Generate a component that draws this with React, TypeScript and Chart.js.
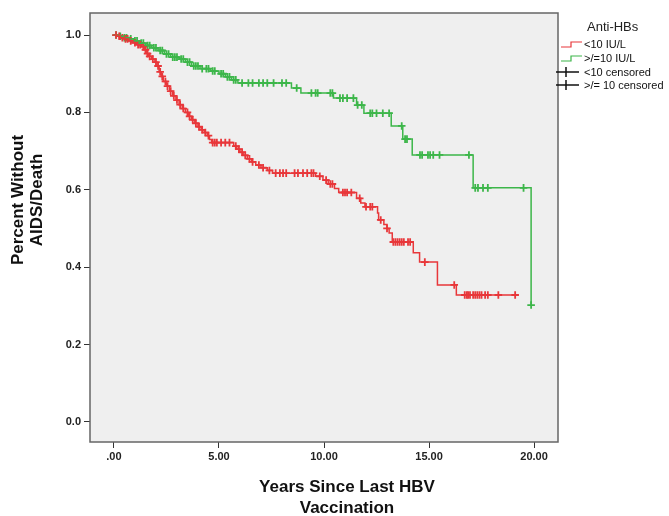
import React, { useEffect, useRef } from "react";
import { Chart, registerables } from "chart.js";

Chart.register(...registerables);

// ---------- data ----------
const xTickValues = [0, 5, 10, 15, 20];
const yTickValues = [0, 0.2, 0.4, 0.6, 0.8, 1.0];

const groupLabels = ["<10 IU/L", ">/=10 IU/L", "<10 censored", ">/= 10 censored"];
const legendTitle = "Anti-HBs";
const xTitleLines = ["Years Since Last HBV", "Vaccination"];
const yTitleLines = ["Percent Without", "AIDS/Death"];

// <10 IU/L group: event times and survival after each event
const lowEventTimes = [
  0.15, 0.3, 0.5, 0.7, 0.9, 1.1, 1.3, 1.45, 1.55, 1.65, 1.8, 1.95, 2.05, 2.15, 2.25, 2.35,
  2.5, 2.65, 2.8, 2.95, 3.1, 3.25, 3.4, 3.55, 3.7, 3.85, 4.0, 4.15, 4.3, 4.45, 4.55, 4.65,
  5.7, 5.85, 6.0, 6.15, 6.35, 6.55, 6.75, 7.0, 7.3, 7.55, 9.6, 9.95, 10.2, 10.5, 10.7,
  11.55, 11.75, 11.95, 12.55, 12.6, 12.85, 13.0, 13.1, 13.25, 14.25, 14.55, 15.4, 16.3,
];
const lowEventSurv = [
  0.997, 0.993, 0.99, 0.985, 0.98, 0.975, 0.97, 0.962, 0.952, 0.945, 0.938, 0.93, 0.92, 0.905, 0.893, 0.88,
  0.868, 0.855, 0.843, 0.832, 0.82, 0.81, 0.8, 0.79, 0.781, 0.772, 0.763, 0.755, 0.748, 0.74, 0.73, 0.722,
  0.713, 0.705, 0.697, 0.689, 0.68, 0.672, 0.664, 0.657, 0.65, 0.643, 0.635, 0.625, 0.615, 0.603, 0.593,
  0.578, 0.566, 0.556, 0.54, 0.522, 0.51, 0.5, 0.488, 0.465, 0.437, 0.413, 0.354, 0.328,
];
const lowCensorTimes = [
  0.1, 0.25, 0.4, 0.55, 0.65, 0.8, 1.0, 1.15, 1.25, 1.4, 1.5, 1.6, 1.7, 1.85, 2.0, 2.1, 2.2, 2.3,
  2.45, 2.55, 2.7, 2.85, 3.0, 3.15, 3.3, 3.5, 3.6, 3.75, 3.9, 4.05, 4.2, 4.35, 4.5, 4.7, 4.8, 4.9,
  5.1, 5.3, 5.5, 5.8, 5.95, 6.1, 6.25, 6.45, 6.6, 6.9, 7.1, 7.4, 7.7, 7.9, 8.05, 8.2, 8.6, 8.76,
  9.0, 9.2, 9.4, 9.5, 9.8, 10.1, 10.3, 10.4, 10.9, 11.0, 11.1, 11.3, 11.7, 12.0, 12.2, 12.3, 12.7,
  13.0, 13.3, 13.4, 13.5, 13.6, 13.7, 13.8, 14.0, 14.1, 14.8, 16.2, 16.7, 16.8, 16.86, 16.95, 17.1,
  17.2, 17.3, 17.4, 17.5, 17.67, 17.8, 18.3, 19.1,
];

// >/=10 IU/L group
const highEventTimes = [
  0.2, 0.45, 0.7, 0.95, 1.2, 1.5, 1.8, 2.1, 2.4, 2.7, 3.1, 3.4, 3.7, 4.1, 4.6, 5.0, 5.3, 5.6, 5.9,
  8.45, 8.9, 10.45, 11.55, 11.9, 13.2, 13.75, 14.2, 17.1, 19.86,
];
const highEventSurv = [
  0.997, 0.993, 0.99, 0.985, 0.979, 0.973, 0.967, 0.96, 0.951, 0.943, 0.938, 0.93, 0.92, 0.913, 0.907,
  0.9, 0.892, 0.884, 0.876, 0.863, 0.85, 0.837, 0.819, 0.798, 0.765, 0.731, 0.69, 0.605, 0.302,
];
const highCensorTimes = [
  0.1, 0.3, 0.5, 0.6, 0.8, 1.0, 1.1, 1.3, 1.4, 1.6, 1.7, 1.9, 2.0, 2.2, 2.3, 2.5, 2.6, 2.8, 2.9, 3.0,
  3.2, 3.3, 3.5, 3.6, 3.8, 3.9, 4.0, 4.2, 4.4, 4.5, 4.7, 4.8, 5.1, 5.2, 5.4, 5.5, 5.7, 5.8, 6.1, 6.4,
  6.6, 6.9, 7.1, 7.3, 7.6, 8.0, 8.2, 8.7, 9.4, 9.6, 9.7, 10.3, 10.4, 10.76, 10.9, 11.1, 11.4, 11.6,
  11.8, 12.2, 12.3, 12.5, 12.8, 13.1, 13.7, 13.86, 13.95, 14.57, 14.67, 14.95, 15.05, 15.2, 15.5,
  16.9, 17.2, 17.33, 17.57, 17.8, 19.5, 19.86,
];

const lowColor = "#e8373a";
const highColor = "#3db64a";

// ---------- helpers ----------
function survAt(times: number[], surv: number[], t: number): number {
  let s = 1;
  for (let i = 0; i < times.length; i++) {
    if (times[i] <= t) s = surv[i];
  }
  return s;
}

function stepPoints(times: number[], surv: number[], censors: number[]) {
  const pts: { x: number; y: number }[] = [{ x: 0, y: 1 }];
  let prev = 1;
  for (let i = 0; i < times.length; i++) {
    pts.push({ x: times[i], y: prev });
    pts.push({ x: times[i], y: surv[i] });
    prev = surv[i];
  }
  const lastC = Math.max(...censors);
  if (lastC > times[times.length - 1]) pts.push({ x: lastC, y: prev });
  return pts;
}

function censorPoints(times: number[], surv: number[], censors: number[]) {
  return censors.map((t) => ({ x: t, y: survAt(times, surv, t) }));
}

const FONT = "'Liberation Sans', Arial, Helvetica, sans-serif";

const framePlugin = {
  id: "frame",
  beforeDatasetsDraw(chart: any) {
    const { ctx, chartArea: a } = chart;
    ctx.save();
    ctx.fillStyle = "#efefef";
    ctx.fillRect(a.left, a.top, a.right - a.left, a.bottom - a.top);
    ctx.restore();
  },
  afterDraw(chart: any) {
    const { ctx, chartArea: a } = chart;
    ctx.save();
    ctx.strokeStyle = "#666";
    ctx.lineWidth = 1.5;
    ctx.strokeRect(a.left, a.top, a.right - a.left, a.bottom - a.top);

    // axis titles
    ctx.fillStyle = "#111";
    ctx.font = `bold 17px ${FONT}`;
    ctx.textAlign = "center";
    ctx.textBaseline = "middle";
    ctx.fillText(xTitleLines[0], 347, 487);
    ctx.fillText(xTitleLines[1], 347, 508);
    ctx.save();
    ctx.translate(18, 200);
    ctx.rotate(-Math.PI / 2);
    ctx.fillText(yTitleLines[0], 0, 0);
    ctx.restore();
    ctx.save();
    ctx.translate(37, 200);
    ctx.rotate(-Math.PI / 2);
    ctx.fillText(yTitleLines[1], 0, 0);
    ctx.restore();

    // legend
    ctx.fillStyle = "#222";
    ctx.font = `13px ${FONT}`;
    ctx.textAlign = "left";
    ctx.fillText(legendTitle, 587, 27);
    ctx.font = `11px ${FONT}`;
    const rows = [44, 58, 72, 85];
    const colors = [lowColor, highColor];
    for (let i = 0; i < 2; i++) {
      const y = rows[i];
      ctx.strokeStyle = colors[i];
      ctx.lineWidth = 1.2;
      ctx.beginPath();
      ctx.moveTo(561, y + 3);
      ctx.lineTo(571, y + 3);
      ctx.lineTo(571, y - 2);
      ctx.lineTo(582, y - 2);
      ctx.stroke();
    }
    for (let i = 2; i < 4; i++) {
      const y = rows[i];
      ctx.strokeStyle = "#111";
      ctx.lineWidth = 1.5;
      ctx.beginPath();
      ctx.moveTo(556, y);
      ctx.lineTo(579, y);
      ctx.moveTo(566, y - 5);
      ctx.lineTo(566, y + 5);
      ctx.stroke();
    }
    ctx.fillStyle = "#111";
    for (let i = 0; i < 4; i++) {
      ctx.fillText(groupLabels[i], 584, rows[i] + 1);
    }
    ctx.restore();
  },
};

export default function App() {
  const ref = useRef<HTMLCanvasElement | null>(null);

  useEffect(() => {
    if (!ref.current) return;
    const chart = new Chart(ref.current, {
      type: "line",
      data: {
        datasets: [
          {
            label: groupLabels[0],
            data: stepPoints(lowEventTimes, lowEventSurv, lowCensorTimes),
            borderColor: lowColor,
            borderWidth: 1.5,
            pointRadius: 0,
            fill: false,
          },
          {
            label: groupLabels[1],
            data: stepPoints(highEventTimes, highEventSurv, highCensorTimes),
            borderColor: highColor,
            borderWidth: 1.5,
            pointRadius: 0,
            fill: false,
          },
          {
            label: groupLabels[2],
            data: censorPoints(lowEventTimes, lowEventSurv, lowCensorTimes),
            showLine: false,
            pointStyle: "cross",
            pointRadius: 3.8,
            pointBorderWidth: 1.8,
            borderColor: lowColor,
            backgroundColor: lowColor,
          },
          {
            label: groupLabels[3],
            data: censorPoints(highEventTimes, highEventSurv, highCensorTimes),
            showLine: false,
            pointStyle: "cross",
            pointRadius: 3.8,
            pointBorderWidth: 1.8,
            borderColor: highColor,
            backgroundColor: highColor,
          },
        ] as any,
      },
      options: {
        animation: false,
        responsive: false,
        layout: { padding: { left: 0, top: 13, right: 111, bottom: 0 } },
        plugins: { legend: { display: false }, tooltip: { enabled: false } },
        elements: { line: { tension: 0 } },
        scales: {
          x: {
            type: "linear",
            min: -1.14,
            max: 21.14,
            afterFit: (s: any) => {
              s.height = 74;
            },
            afterBuildTicks: (s: any) => {
              s.ticks = xTickValues.map((v) => ({ value: v }));
            },
            ticks: {
              color: "#222",
              font: { family: FONT, size: 11, weight: "bold" },
              padding: 2,
              maxRotation: 0,
              callback: (v: any) => (Number(v) === 0 ? ".00" : Number(v).toFixed(2)),
            },
            grid: { drawOnChartArea: false, drawTicks: true, tickLength: 6, color: "#333" },
            border: { display: false },
          },
          y: {
            type: "linear",
            min: -0.052,
            max: 1.057,
            afterFit: (s: any) => {
              s.width = 90;
            },
            afterBuildTicks: (s: any) => {
              s.ticks = yTickValues.map((v) => ({ value: v }));
            },
            ticks: {
              color: "#222",
              font: { family: FONT, size: 11, weight: "bold" },
              padding: 3,
              callback: (v: any) => Number(v).toFixed(1),
            },
            grid: { drawOnChartArea: false, drawTicks: true, tickLength: 6, color: "#333" },
            border: { display: false },
          },
        },
      },
      plugins: [framePlugin],
    });
    return () => chart.destroy();
  }, []);

  return (
    <div style={{ position: "absolute", left: 0, top: 0, width: 669, height: 516, background: "#fff" }}>
      <canvas ref={ref} width={669} height={516} />
    </div>
  );
}
